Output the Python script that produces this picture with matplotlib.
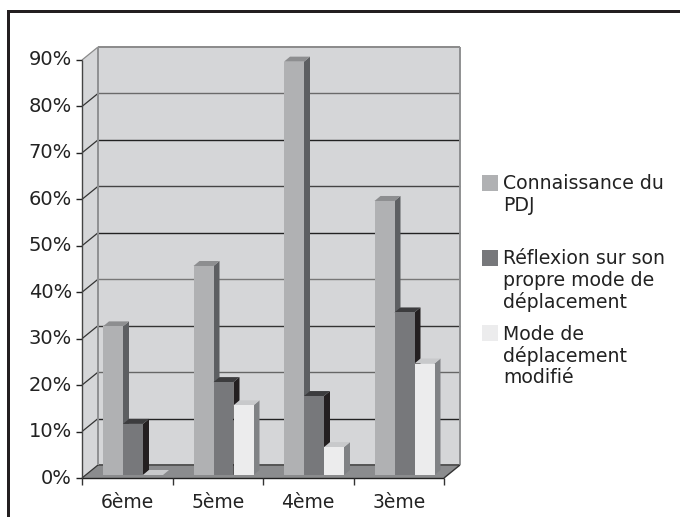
import matplotlib
matplotlib.use("Agg")
import matplotlib.pyplot as plt
from matplotlib.patches import Polygon, Rectangle

categories = ["6ème", "5ème", "4ème", "3ème"]
connaissance = [32, 45, 89, 59]
reflexion = [11, 20, 17, 35]
mode = [0, 15, 6, 24]
series_names = ["Connaissance du\nPDJ", "Réflexion sur son\npropre mode de\ndéplacement", "Mode de\ndéplacement\nmodifié"]
y_ticks = list(range(0, 100, 10))

W, H = 680, 517
fig = plt.figure(figsize=(W / 100, H / 100), dpi=100, facecolor="white")
plt.rcParams["font.family"] = "DejaVu Sans"
L, R, B, T = 82.0, 444.0, 478.0, 60.0
ax = fig.add_axes([L / W, 1 - B / H, (R - L) / W, (B - T) / H])
ax.set_xlim(0, 4)
ax.set_ylim(0, 90)
ax.axis("off")

px = 4.0 / (R - L)        # data units per pixel, x
py = 90.0 / (B - T)       # data units per pixel, y
DX, DY = 16 * px, 13 * py

def poly(pts, fc, z=2):
    ax.add_patch(Polygon(pts, closed=True, facecolor=fc, edgecolor="none", linewidth=0, zorder=z, clip_on=False))

def line(xs, ys, c, lw=1.0, z=3):
    ax.plot(xs, ys, color=c, lw=lw, zorder=z, clip_on=False, solid_capstyle="butt")

# walls
poly([(0, 0), (DX, DY), (DX, 90 + DY), (0, 90)], "#d5d6d8", z=1)
poly([(DX, DY), (4 + DX, DY), (4 + DX, 90 + DY), (DX, 90 + DY)], "#d5d6d8", z=1)
poly([(0, 0), (4, 0), (4 + DX, DY), (DX, DY)], "#8b8c8e", z=1)

grid_cols = ["#555555", "#222222", "#666666", "#333333", "#777777", "#222222", "#444444", "#222222", "#6a6a6a", "#8a8a8a"]
for v, c in zip(y_ticks, grid_cols):
    lw = 1.4 if v in (0, 90) else 1.0
    line([DX, 4 + DX], [v + DY, v + DY], c, lw, z=1.5)
    line([0, DX], [v, v + DY], "#8a8a8a" if v == 90 else "#333333", 0.9, z=1.5)
    line([-6 * px, 0], [v, v], "#222222", 1.0)
line([DX, DX], [DY, 90 + DY], "#8f9092", 1.4, z=1.6)
line([4 + DX, 4 + DX], [DY, 90 + DY], "#8f9092", 1.4, z=1.6)
line([0, 0], [0, 90], "#444444", 1.0)
line([0, 4], [0, 0], "#222222", 1.0)
line([4, 4 + DX], [0, DY], "#333333", 1.0)
for i in range(5):
    line([i, i], [0, -7 * py], "#333333", 1.0)

# bars
BW = 20 * px
dx, dy = 6 * px, 5 * py
OY = 3 * py
styles = [("#b0b1b3", "#8d8e90", "#5d5f62"),
          ("#77787b", "#3c3c3e", "#231f20"),
          ("#ececed", "#c8c9cb", "#808285")]
series = [connaissance, reflexion, mode]
z = 4.0
for i in range(len(categories)):
    start = i + 21 * px
    for j in range(3):
        v = series[j][i]
        x0 = start + j * BW
        x1 = x0 + BW
        y0, y1 = OY, OY + v
        poly([(x1, y0), (x1 + dx, y0 + dy), (x1 + dx, y1 + dy), (x1, y1)], styles[j][2], z=z)
        poly([(x0, y1), (x1, y1), (x1 + dx, y1 + dy), (x0 + dx, y1 + dy)], styles[j][1], z=z)
        poly([(x0, y0), (x1, y0), (x1, y1), (x0, y1)], styles[j][0], z=z)
        z += 0.01

txt = "#222222"
for v in y_ticks:
    ax.text(-10 * px, v, f"{v}%", ha="right", va="center", fontsize=14, color=txt, clip_on=False)
for i, c in enumerate(categories):
    ax.text(i + 0.5, -24 * py, c, ha="center", va="center", fontsize=13.5, color=txt, clip_on=False)

# page frame and legend in pixel coordinates of the figure
def frect(x, y, w, h, c):
    fig.add_artist(Rectangle((x / W, 1 - (y + h) / H), w / W, h / H, transform=fig.transFigure, facecolor=c, edgecolor="none"))

frect(7, 10, 673, 3, "#231f20")
frect(7, 10, 3, 507, "#231f20")
legend_cols = [styles[0][0], styles[1][0], styles[2][0]]
for name, c, sy in zip(series_names, legend_cols, [175, 250, 325]):
    frect(482, sy, 16, 16, c)
    fig.text(503 / W, 1 - (sy - 0.5) / H, name, ha="left", va="top", fontsize=13.6, color=txt, linespacing=1.15)

fig.savefig("out.png", dpi=100)
